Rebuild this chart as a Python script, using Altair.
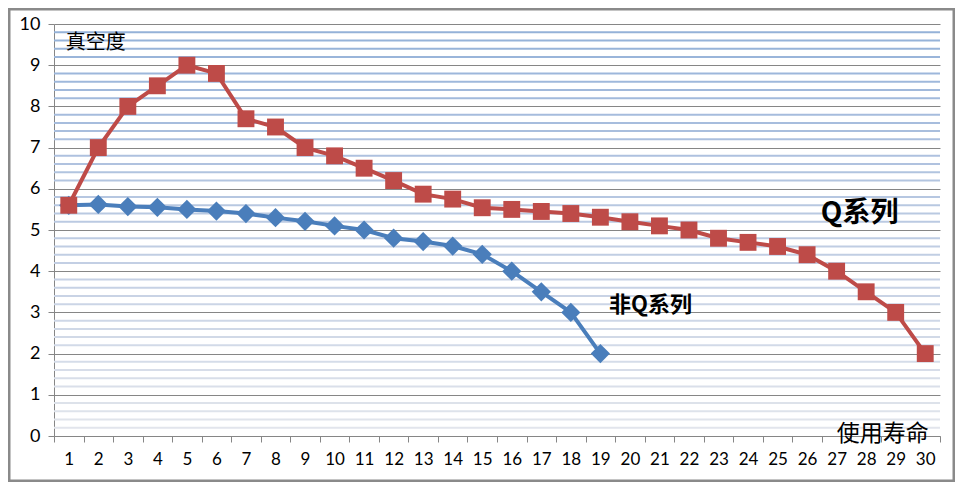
import altair as alt
import pandas as pd

life = list(range(1, 31))
q_series = [5.6, 7.0, 8.0, 8.5, 9.0, 8.8, 7.7, 7.5, 7.0, 6.8, 6.5, 6.2, 5.87, 5.75, 5.54,
            5.5, 5.45, 5.4, 5.31, 5.2, 5.1, 5.0, 4.8, 4.7, 4.6, 4.4, 4.0, 3.5, 3.0, 2.0]
non_q_series = [5.6, 5.62, 5.57, 5.55, 5.5, 5.46, 5.4, 5.3, 5.21, 5.1, 5.0, 4.8, 4.72,
                4.61, 4.41, 4.0, 3.5, 3.0, 2.0]
y_ticks = [0, 1, 2, 3, 4, 5, 6, 7, 8, 9, 10]
minor_ticks = [round(t + f, 1) for t in range(10) for f in (0.2, 0.4, 0.6, 0.8)]

ann_text = ["真空度", "Q系列", "非Q系列", "使用寿命"]
ann_x = [1, 27, 21, 29]
ann_y = [9.55, 5.4, 3.18, 0.05]
ann_dx = [-3, 23, -9, -13]
ann_size = [20, 28, 22, 23]
ann_weight = ["normal", "bold", "bold", "normal"]
ann_align = ["left", "center", "center", "center"]

W, H = 886, 412
FONT = "Lato"
CJK = "Noto Sans CJK SC"

df_q = pd.DataFrame({"life": life, "v": q_series})
df_n = pd.DataFrame({"life": life[:len(non_q_series)], "v": non_q_series})
df_minor = pd.DataFrame({"v": minor_ticks})

xs = alt.Scale(type="band", domain=life, paddingInner=0, paddingOuter=0)
ys = alt.Scale(domain=[0, 10], nice=False, zero=False)

x_axis = alt.Axis(
    title=None, labelAngle=0, labelFont=FONT, labelFontSize=17, labelColor="#000000",
    labelPadding=9, tickBand="extent", tickSize=6, tickColor="#868686",
    domainColor="#868686", grid=False)
y_axis = alt.Axis(
    title=None, values=y_ticks, labelFont=FONT, labelFontSize=18, labelColor="#000000",
    labelPadding=8, tickSize=6, tickColor="#868686", domainColor="#868686",
    grid=True, gridColor="#868686", gridWidth=1)

x_enc = alt.X("life:O", scale=xs, axis=x_axis)
y_enc = alt.Y("v:Q", scale=ys, axis=y_axis)

minor = alt.Chart(df_minor).mark_rule(strokeWidth=2).encode(
    y=y_enc,
    color=alt.Color("v:Q", scale=alt.Scale(domain=[0, 10], range=["#e3e6ec", "#93b1d8"]),
                    legend=None),
)

blue_line = alt.Chart(df_n).mark_line(color="#4a7ebb", strokeWidth=4).encode(
    x=x_enc, y=y_enc)
blue_pts = alt.Chart(df_n).mark_point(shape="diamond", filled=True, size=370,
                                      color="#4a7ebb", opacity=1).encode(
    x=x_enc, y=y_enc)
red_line = alt.Chart(df_q).mark_line(color="#be4b48", strokeWidth=4).encode(
    x=x_enc, y=y_enc)
red_pts = alt.Chart(df_q).mark_point(shape="square", filled=True, size=285,
                                     color="#be4b48", opacity=1).encode(
    x=x_enc, y=y_enc)

texts = []
for t, xv, yv, dx, sz, wt, al in zip(ann_text, ann_x, ann_y, ann_dx, ann_size, ann_weight, ann_align):
    texts.append(
        alt.Chart(pd.DataFrame({"life": [xv], "v": [yv], "t": [t]})).mark_text(
            font=CJK, fontSize=sz, fontWeight=wt, align=al, baseline="middle",
            dx=dx, color="#000000").encode(
            x=x_enc, y=y_enc, text="t:N")
    )

frame = alt.Chart(pd.DataFrame({"a": [0]})).mark_rect(
    fill=None, stroke="#8a8a8a", strokeWidth=3, clip=False).encode(
    x=alt.value(-45), x2=alt.value(W + 14), y=alt.value(-15), y2=alt.value(H + 45))

chart = alt.layer(minor, blue_line, blue_pts, red_line, red_pts, *texts, frame).properties(
    width=W, height=H,
    autosize=alt.AutoSizeParams(type="none"),
    padding={"left": 46, "top": 16, "right": 15, "bottom": 46},
    background="#ffffff",
).configure_view(stroke=None)

chart.save("out.html", embed_options={"renderer": "svg", "actions": False})
